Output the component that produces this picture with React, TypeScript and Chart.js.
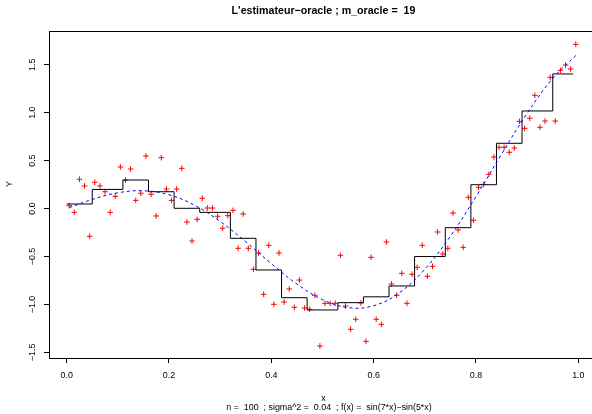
import React, { useEffect, useRef } from "react";
import { Chart, registerables } from "chart.js";

Chart.register(...registerables);

const TITLE = "L'estimateur−oracle ; m_oracle =  19";
const SUBTITLE = "n =  100  ; sigma^2 =  0.04  ; f(x) =  sin(7*x)−sin(5*x)";
const X_LABEL = "x";
const Y_LABEL = "Y";

const X_TICKS = [0, 0.2, 0.4, 0.6, 0.8, 1.0];
const Y_TICKS = [-1.5, -1.0, -0.5, 0.0, 0.5, 1.0, 1.5];

// noisy observations (red +)
const POINT_X = [
  0.005, 0.015, 0.025, 0.035, 0.045, 0.055, 0.065, 0.075, 0.085, 0.095,
  0.105, 0.115, 0.125, 0.135, 0.145, 0.155, 0.165, 0.175, 0.185, 0.195,
  0.205, 0.215, 0.225, 0.235, 0.245, 0.255, 0.265, 0.275, 0.285, 0.295,
  0.305, 0.315, 0.325, 0.335, 0.345, 0.355, 0.365, 0.375, 0.385, 0.395,
  0.405, 0.415, 0.425, 0.435, 0.445, 0.455, 0.465, 0.475, 0.485, 0.495,
  0.505, 0.515, 0.525, 0.535, 0.545, 0.555, 0.565, 0.575, 0.585, 0.595,
  0.605, 0.615, 0.625, 0.635, 0.645, 0.655, 0.665, 0.675, 0.685, 0.695,
  0.705, 0.715, 0.725, 0.735, 0.745, 0.755, 0.765, 0.775, 0.785, 0.795,
  0.805, 0.815, 0.825, 0.835, 0.845, 0.855, 0.865, 0.875, 0.885, 0.895,
  0.905, 0.915, 0.925, 0.935, 0.945, 0.955, 0.965, 0.975, 0.985, 0.995,
];
const POINT_Y = [
  0.030, -0.039, 0.306, 0.236, -0.289, 0.274, 0.236, 0.176, -0.039, 0.128,
  0.434, 0.298, 0.413, 0.086, 0.160, 0.548, 0.149, -0.077, 0.531, 0.204,
  0.086, 0.204, 0.420, -0.140, -0.338, -0.112, 0.107, 0.006, 0.006, -0.080,
  -0.205, -0.074, -0.018, -0.414, -0.056, -0.414, -0.633, -0.463, -0.894, -0.383,
  -0.998, -0.463, -0.974, -0.838, -1.029, -0.745, -1.037, -1.050, -0.904, -1.433,
  -0.988, -0.988, -0.988, -0.487, -1.016, -1.259, -1.154, -0.984, -1.384, -0.508,
  -1.154, -1.207, -0.348, -0.786, -0.904, -0.675, -0.988, -0.685, -0.612, -0.383,
  -0.706, -0.602, -0.244, -0.473, -0.414, -0.046, -0.223, -0.404, 0.118, -0.122,
  0.222, 0.253, 0.358, 0.538, 0.639, 0.639, 0.587, 0.632, 0.910, 0.837,
  0.942, 1.181, 0.848, 0.913, 1.369, 0.913, 1.442, 1.497, 1.456, 1.713,
];

// oracle estimator (black steps)
const STEP_EDGES = [
  0, 0.05, 0.11, 0.16, 0.21, 0.26, 0.32, 0.37, 0.42, 0.47,
  0.53, 0.58, 0.63, 0.68, 0.74, 0.79, 0.84, 0.89, 0.95, 0.99,
];
const STEP_VALUES = [
  0.048, 0.200, 0.298, 0.176, 0.003, -0.039, -0.310, -0.640, -0.929, -1.057,
  -0.981, -0.920, -0.807, -0.500, -0.199, 0.249, 0.681, 1.018, 1.404,
];

// true function (blue dashed)
const CURVE_X = [
  0.005, 0.05, 0.1, 0.15, 0.2, 0.25, 0.3, 0.35, 0.4, 0.45, 0.5,
  0.55, 0.6, 0.65, 0.7, 0.75, 0.8, 0.85, 0.9, 0.95, 0.995,
];
const CURVE_Y = [
  0.010, 0.0955, 0.1648, 0.1858, 0.1440, 0.0350, -0.1343, -0.3462, -0.5743, -0.7865, -0.9493,
  -1.0323, -1.0127, -0.8786, -0.6317, -0.2873, 0.1255, 0.568, 0.9943, 1.358, 1.5959,
];

const X_RANGE = [-0.0345, 1.0404];
const Y_RANGE = [-1.558, 1.852];

const FONT = '"Liberation Sans", Arial, Helvetica, sans-serif';

const fmt = (v: number) => Number(v).toFixed(1).replace("-", "\u2212");

const rPlotPlugin = {
  id: "rPlot",
  afterDatasetsDraw(chart: any) {
    const { ctx, chartArea } = chart;
    ctx.save();
    ctx.strokeStyle = "#000";
    ctx.lineWidth = 1;
    ctx.strokeRect(
      chartArea.left + 0.5,
      chartArea.top + 0.5,
      chartArea.right - chartArea.left,
      chartArea.bottom - chartArea.top
    );
    ctx.restore();
  },
  afterDraw(chart: any) {
    const { ctx } = chart;
    ctx.save();
    ctx.fillStyle = "#000";
    ctx.textAlign = "center";
    ctx.textBaseline = "alphabetic";
    ctx.font = `bold 10.66px ${FONT}`;
    ctx.fillText(TITLE, 323.5, 14);
    ctx.font = `8.9px ${FONT}`;
    ctx.fillText(X_LABEL, 323.5, 400.5);
    ctx.fillText(SUBTITLE, 329, 409.5);
    ctx.translate(10, 184);
    ctx.rotate(-Math.PI / 2);
    ctx.textBaseline = "middle";
    ctx.fillText(Y_LABEL, 0, 0);
    ctx.restore();
  },
};

export default function App() {
  const canvasRef = useRef<HTMLCanvasElement | null>(null);

  useEffect(() => {
    if (!canvasRef.current) return;
    const pts = POINT_X.map((x, i) => ({ x, y: POINT_Y[i] }));
    const steps = STEP_EDGES.map((x, i) => ({
      x,
      y: STEP_VALUES[Math.min(i, STEP_VALUES.length - 1)],
    }));
    const curve = CURVE_X.map((x, i) => ({ x, y: CURVE_Y[i] }));

    const tickFont = { family: FONT, size: 8.9 };

    const chart = new Chart(canvasRef.current, {
      type: "scatter",
      data: {
        datasets: [
          {
            label: "f",
            data: curve,
            showLine: true,
            borderColor: "#0000FF",
            borderWidth: 1,
            borderDash: [3, 3],
            pointRadius: 0,
            tension: 0.4,
            fill: false,
          },
          {
            label: "oracle",
            data: steps,
            showLine: true,
            stepped: "before",
            borderColor: "#000000",
            borderWidth: 1,
            pointRadius: 0,
            fill: false,
          },
          {
            label: "obs",
            data: pts,
            showLine: false,
            pointStyle: "cross",
            pointRadius: 2.8,
            borderColor: "#FF0000",
            backgroundColor: "#FF0000",
            borderWidth: 1,
          },
        ],
      } as any,
      options: {
        animation: false,
        responsive: false,
        maintainAspectRatio: false,
        devicePixelRatio: 1,
        layout: { padding: { left: 0, top: 31, right: 4, bottom: 0 } },
        plugins: {
          legend: { display: false },
          tooltip: { enabled: false },
          title: { display: false },
        },
        scales: {
          x: {
            type: "linear",
            min: X_RANGE[0],
            max: X_RANGE[1],
            afterBuildTicks: (s: any) => {
              s.ticks = X_TICKS.map((v) => ({ value: v }));
            },
            afterFit: (s: any) => {
              s.height = 56;
            },
            grid: {
              display: true,
              drawOnChartArea: false,
              drawTicks: true,
              tickLength: 5,
              color: "#000",
              tickColor: "#000",
              lineWidth: 1,
            },
            border: { display: false },
            ticks: {
              autoSkip: false,
              minRotation: 0,
              maxRotation: 0,
              padding: 7,
              color: "#000",
              font: tickFont,
              callback: (v: any) => fmt(v),
            },
          },
          y: {
            type: "linear",
            min: Y_RANGE[0],
            max: Y_RANGE[1],
            afterBuildTicks: (s: any) => {
              s.ticks = Y_TICKS.map((v) => ({ value: v }));
            },
            afterFit: (s: any) => {
              s.width = 49;
            },
            grid: {
              display: true,
              drawOnChartArea: false,
              drawTicks: true,
              tickLength: 5,
              color: "#000",
              tickColor: "#000",
              lineWidth: 1,
            },
            border: { display: false },
            ticks: {
              autoSkip: false,
              minRotation: 90,
              maxRotation: 90,
              crossAlign: "center",
              padding: 3,
              color: "#000",
              font: tickFont,
              callback: (v: any) => fmt(v),
            },
          },
        },
      } as any,
      plugins: [rPlotPlugin],
    });
    return () => chart.destroy();
  }, []);

  return (
    <div
      style={{
        position: "fixed",
        left: 0,
        top: 0,
        width: 592,
        height: 414,
        overflow: "hidden",
        background: "#fff",
      }}
    >
      <canvas
        ref={canvasRef}
        width={604}
        height={414}
        style={{ display: "block", width: 604, height: 414 }}
      />
    </div>
  );
}
